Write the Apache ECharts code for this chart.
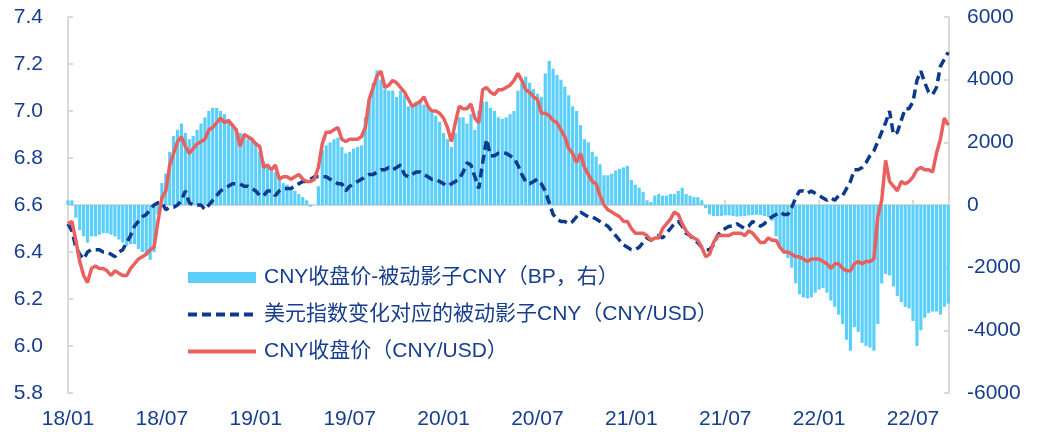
<!DOCTYPE html>
<html>
<head>
<meta charset="utf-8">
<script src="https://cdn.jsdelivr.net/npm/echarts@6/dist/echarts.min.js"></script>
<style>
  html, body { margin: 0; padding: 0; background: #fff; }
  #chart { width: 1043px; height: 435px; }
</style>
</head>
<body>
<div id="chart"></div>
<script>
// one value per week (4 per month), x = months since 2018/01
const STEP = 0.25

// CNY收盘价 (CNY/USD), left axis
const cny2018 = [6.52, 6.53, 6.45, 6.36, 6.30, 6.27, 6.33, 6.34, 6.33, 6.33, 6.32, 6.30,
  6.32, 6.31, 6.30, 6.30, 6.33, 6.35, 6.37, 6.38, 6.39, 6.41, 6.42, 6.53,
  6.63, 6.66, 6.77, 6.82, 6.87, 6.89, 6.85, 6.82, 6.84, 6.86, 6.87, 6.88,
  6.92, 6.93, 6.95, 6.97, 6.95, 6.96, 6.94, 6.92, 6.85, 6.90, 6.89, 6.88]
const cny2019 = [6.86, 6.85, 6.76, 6.77, 6.75, 6.77, 6.71, 6.72, 6.72, 6.71, 6.72, 6.73,
  6.71, 6.70, 6.70, 6.71, 6.76, 6.86, 6.91, 6.91, 6.92, 6.93, 6.88, 6.87,
  6.88, 6.88, 6.88, 6.89, 6.93, 7.05, 7.10, 7.15, 7.17, 7.10, 7.11, 7.13,
  7.12, 7.10, 7.08, 7.05, 7.02, 7.03, 7.04, 7.06, 7.02, 7.00, 7.00, 6.99]
const cny2020 = [6.97, 6.93, 6.87, 6.95, 7.02, 7.01, 7.01, 7.03, 6.97, 6.95, 7.09, 7.10,
  7.08, 7.07, 7.09, 7.09, 7.10, 7.11, 7.13, 7.16, 7.13, 7.09, 7.08, 7.06,
  7.05, 6.99, 6.99, 6.98, 6.96, 6.95, 6.92, 6.89, 6.84, 6.82, 6.78, 6.82,
  6.76, 6.73, 6.70, 6.69, 6.64, 6.60, 6.58, 6.57, 6.56, 6.55, 6.53, 6.53]
const cny2021 = [6.50, 6.48, 6.48, 6.48, 6.47, 6.45, 6.46, 6.46, 6.50, 6.52, 6.54, 6.57,
  6.56, 6.52, 6.49, 6.47, 6.46, 6.45, 6.42, 6.38, 6.39, 6.44, 6.47, 6.47,
  6.47, 6.47, 6.48, 6.48, 6.48, 6.47, 6.49, 6.48, 6.46, 6.44, 6.44, 6.46,
  6.45, 6.45, 6.42, 6.40, 6.40, 6.39, 6.38, 6.38, 6.37, 6.36, 6.37, 6.37]
const cny2022 = [6.37, 6.36, 6.35, 6.33, 6.35, 6.35, 6.33, 6.32, 6.32, 6.35, 6.36, 6.35,
  6.36, 6.36, 6.37, 6.55, 6.62, 6.79, 6.70, 6.68, 6.66, 6.70, 6.69, 6.70,
  6.72, 6.75, 6.76, 6.75, 6.75, 6.74, 6.82, 6.88, 6.97, 6.94]

// 美元指数变化对应的被动影子CNY (CNY/USD), left axis
const shadow2018 = [6.52, 6.49, 6.42, 6.39, 6.37, 6.40, 6.41, 6.41, 6.41, 6.40, 6.40, 6.39,
  6.38, 6.40, 6.41, 6.44, 6.47, 6.51, 6.53, 6.55, 6.56, 6.58, 6.60, 6.61,
  6.61, 6.58, 6.59, 6.59, 6.60, 6.62, 6.66, 6.61, 6.60, 6.60, 6.60, 6.58,
  6.60, 6.62, 6.64, 6.66, 6.67, 6.68, 6.69, 6.69, 6.69, 6.68, 6.68, 6.67]
const shadow2019 = [6.66, 6.64, 6.64, 6.66, 6.66, 6.64, 6.66, 6.67, 6.67, 6.67, 6.68, 6.69,
  6.70, 6.70, 6.71, 6.72, 6.72, 6.72, 6.72, 6.71, 6.70, 6.69, 6.69, 6.66,
  6.68, 6.69, 6.70, 6.71, 6.72, 6.73, 6.73, 6.74, 6.75, 6.75, 6.76, 6.75,
  6.76, 6.77, 6.73, 6.72, 6.73, 6.74, 6.74, 6.73, 6.72, 6.71, 6.71, 6.70]
const shadow2020 = [6.69, 6.68, 6.69, 6.70, 6.71, 6.74, 6.78, 6.77, 6.72, 6.67, 6.78, 6.88,
  6.81, 6.81, 6.82, 6.82, 6.82, 6.81, 6.80, 6.77, 6.73, 6.70, 6.69, 6.70,
  6.71, 6.69, 6.66, 6.61, 6.56, 6.54, 6.53, 6.53, 6.52, 6.53, 6.55, 6.57,
  6.56, 6.55, 6.55, 6.54, 6.53, 6.52, 6.51, 6.49, 6.47, 6.45, 6.43, 6.42]
const shadow2021 = [6.41, 6.41, 6.42, 6.44, 6.46, 6.45, 6.46, 6.47, 6.46, 6.48, 6.50, 6.52,
  6.53, 6.51, 6.48, 6.47, 6.45, 6.44, 6.42, 6.41, 6.41, 6.43, 6.47, 6.49,
  6.50, 6.51, 6.51, 6.52, 6.51, 6.50, 6.51, 6.53, 6.52, 6.51, 6.52, 6.54,
  6.55, 6.56, 6.57, 6.56, 6.56, 6.59, 6.63, 6.66, 6.66, 6.65, 6.66, 6.65]
const shadow2022 = [6.64, 6.63, 6.62, 6.63, 6.62, 6.64, 6.64, 6.67, 6.70, 6.75, 6.75, 6.76,
  6.78, 6.81, 6.83, 6.87, 6.91, 6.95, 7.00, 6.90, 6.91, 6.96, 7.01, 7.01,
  7.04, 7.13, 7.17, 7.12, 7.08, 7.07, 7.10, 7.19, 7.22, 7.25]

// CNY收盘价-被动影子CNY (BP), right axis
const gap2018 = [150, 150, -400, -800, -1000, -1200, -1000, -1000, -950, -900, -900, -950,
  -1000, -1100, -1200, -1300, -1250, -1250, -1400, -1500, -1550, -1750, -1500, -300,
  700, 1000, 1700, 2200, 2400, 2600, 2300, 2100, 2200, 2400, 2600, 2800,
  3000, 3100, 3100, 3000, 2900, 2750, 2600, 2450, 2300, 2250, 2100, 2100]
const gap2019 = [2000, 1700, 1400, 1200, 1150, 1050, 800, 700, 650, 550, 450, 350,
  250, 150, -50, 0, 600, 1750, 1900, 2000, 2100, 2150, 1850, 1650,
  1700, 1800, 1850, 1900, 2800, 3400, 3900, 4300, 4000, 3700, 3650, 3650,
  3450, 3650, 3500, 3150, 3200, 3300, 3350, 3200, 3100, 3000, 2850, 2650]
const gap2020 = [2300, 2100, 1850, 2300, 2800, 2800, 2600, 2900, 2400, 3000, 3300, 3300,
  3100, 3000, 2800, 2750, 2800, 2900, 3000, 3650, 3900, 4100, 3900, 3700,
  3550, 3450, 4200, 4600, 4350, 4150, 4000, 3780, 3500, 3150, 3000, 2550,
  2100, 2000, 1700, 1550, 1300, 950, 950, 1000, 1100, 1150, 1200, 1250]
const gap2021 = [800, 650, 550, 420, 150, 100, 300, 350, 300, 300, 350, 350,
  450, 550, 350, 300, 250, 250, 150, -100, -300, -350, -350, -350,
  -330, -330, -350, -370, -360, -350, -330, -320, -310, -320, -350, -380,
  -500, -1000, -1300, -1550, -1700, -2000, -2500, -2850, -2950, -2980, -2950, -2800]
const gap2022 = [-2700, -2650, -2800, -3050, -3250, -3500, -3800, -4300, -4650, -3900, -4050, -4400,
  -4500, -4550, -4650, -3800, -2500, -2200, -2250, -2600, -2900, -3100, -3250, -3300,
  -3700, -4500, -4000, -3600, -3450, -3400, -3400, -3500, -3250, -3150]

const barName = 'CNY收盘价-被动影子CNY（BP，右）'
const dashName = '美元指数变化对应的被动影子CNY（CNY/USD）'
const lineName = 'CNY收盘价（CNY/USD）'

const cny = [].concat(cny2018, cny2019, cny2020, cny2021, cny2022)
const shadow = [].concat(shadow2018, shadow2019, shadow2020, shadow2021, shadow2022)
const gap = [].concat(gap2018, gap2019, gap2020, gap2021, gap2022)

const toPoints = (arr) => arr.map((v, i) => [i * STEP, v])

const textColor = '#173D8F'
const axisColor = '#D9D9D9'
const font = '"Liberation Sans", Arial, "Noto Sans CJK SC", sans-serif'

const monthLabel = (m) => {
  const r = Math.round(m)
  if (Math.abs(m - r) > 1e-6 || r % 6 !== 0) return ''
  const yy = 18 + Math.floor(r / 12)
  const mm = (r % 12) + 1
  return yy + '/' + String(mm).padStart(2, '0')
}

const chart = echarts.init(document.getElementById('chart'))

chart.setOption({
  animation: false,
  textStyle: { fontFamily: font },
  grid: { left: 68, right: 94, top: 17, bottom: 42 },
  legend: {
    orient: 'vertical',
    left: 181,
    top: 262,
    itemWidth: 68,
    itemHeight: 11,
    itemGap: 16,
    textStyle: { color: textColor, fontSize: 21, fontFamily: font, padding: [0, 0, 0, 3] },
    data: [
      { name: barName, icon: 'rect' },
      // hide the symbol dot, keep a thick line like the reference
      { name: dashName, itemStyle: { opacity: 0 }, lineStyle: { width: 4, type: [9, 5] } },
      { name: lineName, itemStyle: { opacity: 0 }, lineStyle: { width: 4 } },
    ],
  },
  xAxis: {
    type: 'value',
    min: 0,
    max: 56.3,
    interval: 6,
    axisLine: { show: true, lineStyle: { color: axisColor, width: 2 } },
    axisTick: { show: true, inside: true, length: 5, lineStyle: { color: axisColor, width: 2 } },
    axisLabel: {
      color: textColor,
      fontSize: 21,
      margin: 16,
      showMaxLabel: false,
      formatter: monthLabel,
    },
    splitLine: { show: false },
  },
  yAxis: [
    {
      type: 'value',
      position: 'left',
      min: 5.8,
      max: 7.4,
      interval: 0.2,
      axisLine: { show: true, lineStyle: { color: axisColor, width: 2 } },
      axisTick: { show: true, inside: true, length: 5, lineStyle: { color: axisColor, width: 2 } },
      axisLabel: {
        color: textColor,
        fontSize: 21,
        margin: 25,
        formatter: (v) => v.toFixed(1),
      },
      splitLine: { show: false },
    },
    {
      type: 'value',
      position: 'right',
      min: -6000,
      max: 6000,
      interval: 2000,
      axisLine: { show: true, lineStyle: { color: axisColor, width: 2 } },
      axisTick: { show: true, inside: true, length: 5, lineStyle: { color: axisColor, width: 2 } },
      axisLabel: { color: textColor, fontSize: 21, margin: 18, formatter: (v) => String(v) },
      splitLine: { show: false },
    },
  ],
  series: [
    {
      name: barName,
      type: 'bar',
      yAxisIndex: 1,
      barWidth: 3.2,
      data: toPoints(gap),
      itemStyle: { color: '#5BCFF7' },
    },
    {
      name: dashName,
      type: 'line',
      yAxisIndex: 0,
      symbol: 'none',
      data: toPoints(shadow),
      lineStyle: { color: '#0C3A8E', width: 3.5, type: [9, 5] },
      itemStyle: { color: '#0C3A8E' },
    },
    {
      name: lineName,
      type: 'line',
      yAxisIndex: 0,
      symbol: 'none',
      data: toPoints(cny),
      lineStyle: { color: '#E8605F', width: 3.5 },
      itemStyle: { color: '#E8605F' },
    },
  ],
})

window.addEventListener('resize', () => chart.resize())
</script>
</body>
</html>
